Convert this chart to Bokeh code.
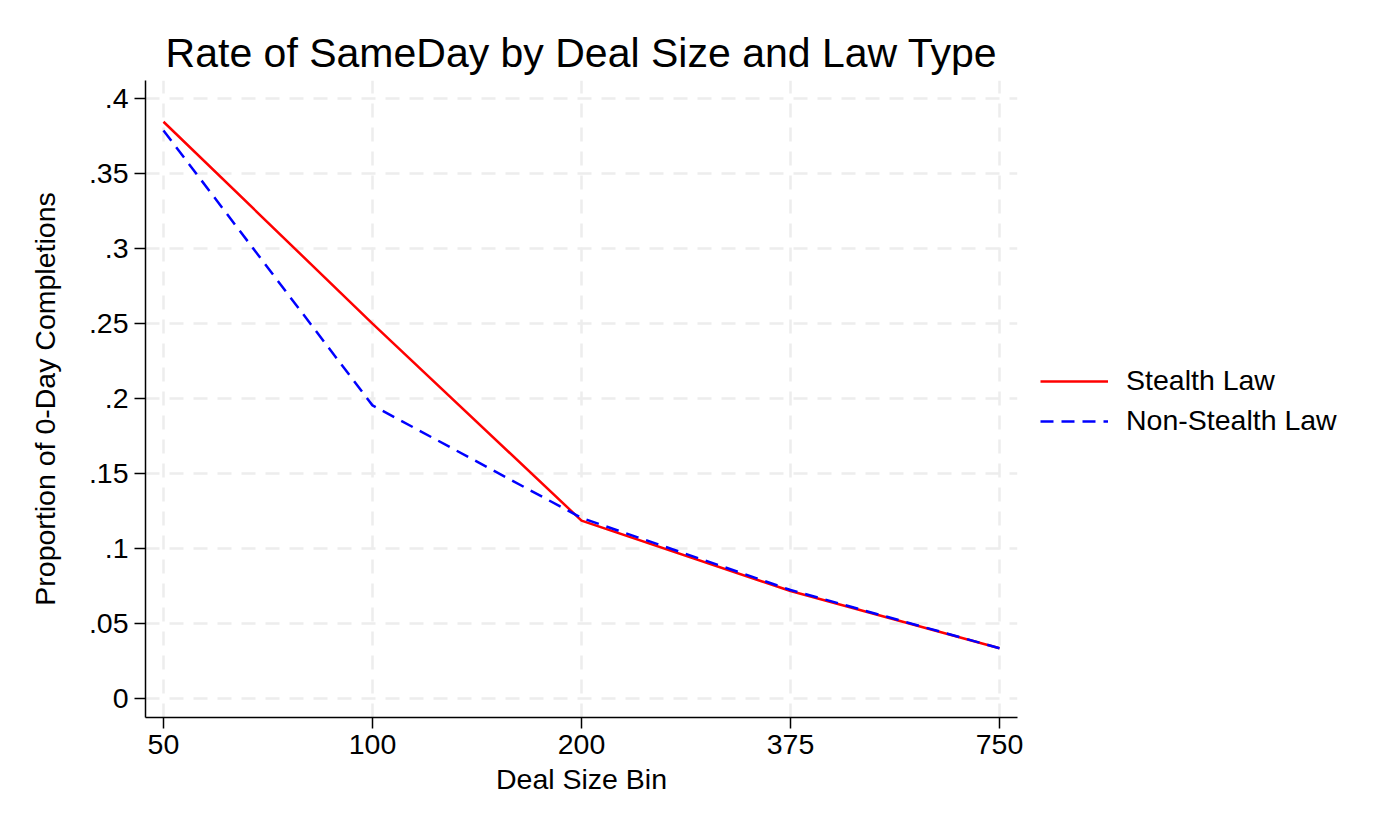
from bokeh.plotting import figure
from bokeh.models import FixedTicker, Legend, LegendItem, Range1d
from bokeh.layouts import row
from bokeh.embed import file_html
from bokeh.resources import INLINE

bins = ["50", "100", "200", "375", "750"]
stealth = [0.3845, 0.250, 0.1187, 0.0718, 0.0337]
non_stealth = [0.3787, 0.1955, 0.1205, 0.0725, 0.0337]
y_ticks = [0, 0.05, 0.1, 0.15, 0.2, 0.25, 0.3, 0.35, 0.4]
y_tick_labels = ["0", ".05", ".1", ".15", ".2", ".25", ".3", ".35", ".4"]
series_names = ["Stealth Law", "Non-Stealth Law"]

xs = list(range(len(bins)))
FONT = "Liberation Sans"
FS = "28.5px"
RED_STYLE = dict(line_color="red", line_width=2.5)
BLUE_STYLE = dict(line_color="blue", line_width=2.5, line_dash="13 8")

p = figure(width=1030, height=840, output_backend="svg", toolbar_location=None,
           x_range=Range1d(-0.086, 4.086), y_range=Range1d(-0.0125, 0.412),
           min_border_left=145, min_border_right=13, min_border_top=80, min_border_bottom=123,
           title="Rate of SameDay by Deal Size and Law Type")
p.outline_line_color = None
p.background_fill_color = "white"
p.border_fill_color = "white"

p.title.text_font = FONT
p.title.text_font_size = "41px"
p.title.text_font_style = "normal"
p.title.align = "center"
p.title.text_color = "black"

p.line(xs, stealth, **RED_STYLE)
p.line(xs, non_stealth, **BLUE_STYLE)

p.xaxis.ticker = FixedTicker(ticks=xs)
p.xaxis.major_label_overrides = {i: b for i, b in enumerate(bins)}
p.yaxis.ticker = FixedTicker(ticks=y_ticks)
p.yaxis.major_label_overrides = {t: l for t, l in zip(y_ticks, y_tick_labels)}
for ax in (p.xaxis, p.yaxis):
    ax.axis_line_color = "black"
    ax.axis_line_width = 1.5
    ax.major_tick_line_color = "black"
    ax.major_tick_line_width = 1.5
    ax.major_tick_out = 11
    ax.major_tick_in = 0
    ax.minor_tick_line_color = None
    ax.major_label_text_font = FONT
    ax.major_label_text_font_size = FS
    ax.major_label_text_color = "black"
    ax.axis_label_text_font = FONT
    ax.axis_label_text_font_size = FS
    ax.axis_label_text_font_style = "normal"
    ax.axis_label_text_color = "black"
p.xaxis.axis_label = "Deal Size Bin"
p.yaxis.axis_label = "Proportion of 0-Day Completions"
p.yaxis.major_label_orientation = "horizontal"
p.yaxis.major_label_standoff = 6
p.xaxis.major_label_standoff = 6
p.yaxis.axis_label_standoff = 25
p.xaxis.axis_label_standoff = 6

for g in (p.xgrid, p.ygrid):
    g.grid_line_color = "#ededed"
    g.grid_line_width = 2.5
    g.grid_line_dash = "14 10"

# legend panel (separate figure to the right of the plot)
lf = figure(width=370, height=840, output_backend="svg", toolbar_location=None,
            x_range=Range1d(0, 1), y_range=Range1d(0, 1),
            x_axis_location=None, y_axis_location=None,
            min_border_left=0, min_border_right=0, min_border_top=0, min_border_bottom=0)
lf.outline_line_color = None
lf.xgrid.visible = False
lf.ygrid.visible = False
# keys only: their points lie outside the visible range
lr1 = lf.line([5, 6], [5, 5], **RED_STYLE)
lr2 = lf.line([5, 6], [5, 5], **BLUE_STYLE)

legend = Legend(items=[LegendItem(label=series_names[0], renderers=[lr1]),
                       LegendItem(label=series_names[1], renderers=[lr2])],
                location=(10, 280))
legend.border_line_color = None
legend.background_fill_alpha = 0
legend.label_text_font = FONT
legend.label_text_font_size = FS
legend.label_text_color = "black"
legend.glyph_width = 68
legend.glyph_height = 30
legend.label_height = 30
legend.label_standoff = 18
legend.spacing = 7
legend.margin = 0
legend.padding = 0
lf.add_layout(legend, "center")

open("out.html", "w").write(file_html(row(p, lf), INLINE))
